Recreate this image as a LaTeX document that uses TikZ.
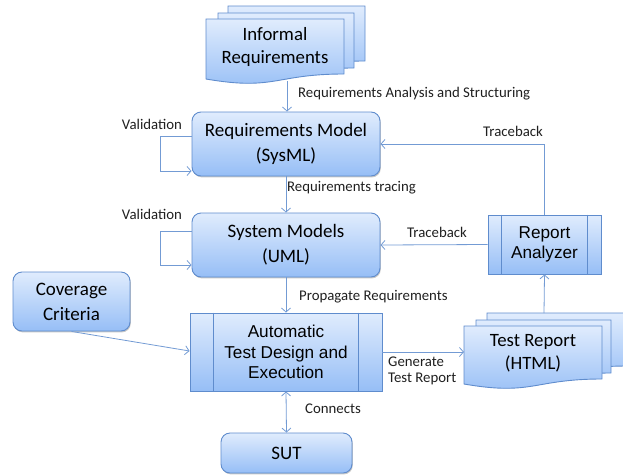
\documentclass[tikz,border=0pt]{standalone}
\usepackage{fontspec}
\setmainfont{Carlito}
\newfontfamily\arialfont{Liberation Sans}
\usetikzlibrary{arrows.meta,shadows}

\definecolor{boxline}{RGB}{95,140,205}
\definecolor{arrowline}{RGB}{115,155,212}
\definecolor{filltop}{RGB}{224,236,253}
\definecolor{fillbot}{RGB}{150,190,246}

\tikzset{
  softshadow/.style={drop shadow={shadow xshift=0.8pt,shadow yshift=-1.4pt,opacity=0.22,fill=black}},
  box/.style={draw=boxline, line width=0.9pt, top color=filltop, bottom color=fillbot,
    rounded corners=9pt, align=center, inner sep=0pt, softshadow,
    font=\fontsize{19}{25}\selectfont},
  procbox/.style={draw=boxline, line width=0.9pt, top color=filltop, bottom color=fillbot,
    align=center, inner sep=0pt, softshadow,
    font=\arialfont\fontsize{17.2}{20.5}\selectfont},
  docshape/.style={draw=boxline, line width=0.9pt, top color=filltop, bottom color=fillbot},
  doctext/.style={align=center, inner sep=0pt, font=\fontsize{18.8}{23}\selectfont},
  link/.style={draw=arrowline, line width=0.8pt, -{Straight Barb[length=4pt,width=9pt]}},
  lbl/.style={font=\fontsize{14.8}{16}\selectfont, inner sep=0pt, text=black!88},
}

% document symbol: left, top, right, y of bottom-left corner
\newcommand\docsym[4]{%
  \path[docshape] (#1,#2) -- (#3,#2) -- (#3,{#4-5})
    .. controls ({(#1+#3)/2},{#4-5}) and ({(#1+#3)/2},{#4+12}) .. (#1,#4) -- cycle;}

\begin{document}
\begin{tikzpicture}[x=1pt,y=-1pt]
\useasboundingbox (0,0) rectangle (623,474);

% stacked documents: informal requirements
\docsym{228}{6}{365}{66}
\docsym{218}{13}{354}{73}
\docsym{206}{19}{344}{79}
\node[doctext] (ir) at (275,46.5) {Informal\\Requirements};
\coordinate (irb) at (287,81);

% stacked documents: test report
\begin{scope}
\clip (0,0) rectangle (623,474);
\docsym{487}{313}{628}{371}
\docsym{476}{320}{611}{378}
\docsym{464}{326}{602}{384}
\end{scope}
\node[doctext] (tr) at (533,353.5) {Test Report\\(HTML)};
\coordinate (trl) at (464,352);
\coordinate (trt) at (544,313);

% model boxes
\node[box, minimum width=188pt, minimum height=64pt] (reqm) at (286,144) {Requirements Model\\(SysML)};
\node[box, minimum width=188pt, minimum height=64pt] (sysm) at (286,245) {System Models\\(UML)};
\node[box, minimum width=117pt, minimum height=59pt] (cov) at (71.5,301.5) {Coverage\\Criteria};
\node[box, minimum width=131pt, minimum height=40pt] (sut) at (286.5,453) {SUT};

% process boxes
\node[procbox, minimum width=192pt, minimum height=78pt] (auto) at (286,352) {Automatic\\Test Design and\\Execution};
\draw[boxline, line width=0.9pt] ([xshift=24pt]auto.north west) -- ([xshift=24pt]auto.south west)
  ([xshift=-24pt]auto.north east) -- ([xshift=-24pt]auto.south east);
\node[procbox, minimum width=113pt, minimum height=59pt] (ra) at (544.5,244.5) {Report\\Analyzer};
\draw[boxline, line width=0.9pt] ([xshift=14pt]ra.north west) -- ([xshift=14pt]ra.south west)
  ([xshift=-14pt]ra.north east) -- ([xshift=-14pt]ra.south east);

% connectors
\draw[link] (irb) -- (irb |- reqm.north);
\draw[link] ([yshift=8pt]reqm.west) -- ++(-31,0) |- ([yshift=-27pt]reqm.west);
\draw[link] (reqm.south) -- (sysm.north);
\draw[link] ([yshift=14pt]sysm.west) -- ++(-31,0) |- ([yshift=-20pt]sysm.west);
\draw[link] (sysm.south) -- (auto.north);
\draw[link] (cov.south) -- ([yshift=1pt]auto.west);
\draw[link, {Straight Barb[length=4pt,width=9pt]}-{Straight Barb[length=4pt,width=9pt]}] (auto.south) -- (sut.north);
\draw[link] (auto.east) -- (trl);
\draw[link] (trt) -- (ra.south);
\draw[link] (ra.west) -- (sysm.east);
\draw[link] (ra.north) |- (reqm.east);

% connector labels
\node[lbl, anchor=west] (l1) at (298,94) {Requirements Analysis and Structuring};
\node[lbl] (l2) at (152,124) {Validation};
\node[lbl] (l3) at (152,214) {Validation};
\node[lbl, anchor=west] (l4) at (287,188) {Requirements tracing};
\node[lbl, anchor=west] (l5) at (299,297) {Propagate Requirements};
\node[lbl] (l6) at (513,131) {Traceback};
\node[lbl] (l7) at (437,232) {Traceback};
\node[lbl, anchor=west, align=left] (l8) at (388,371) {Generate\\Test Report};
\node[lbl, anchor=west] (l9) at (305,409) {Connects};
\end{tikzpicture}
\end{document}
